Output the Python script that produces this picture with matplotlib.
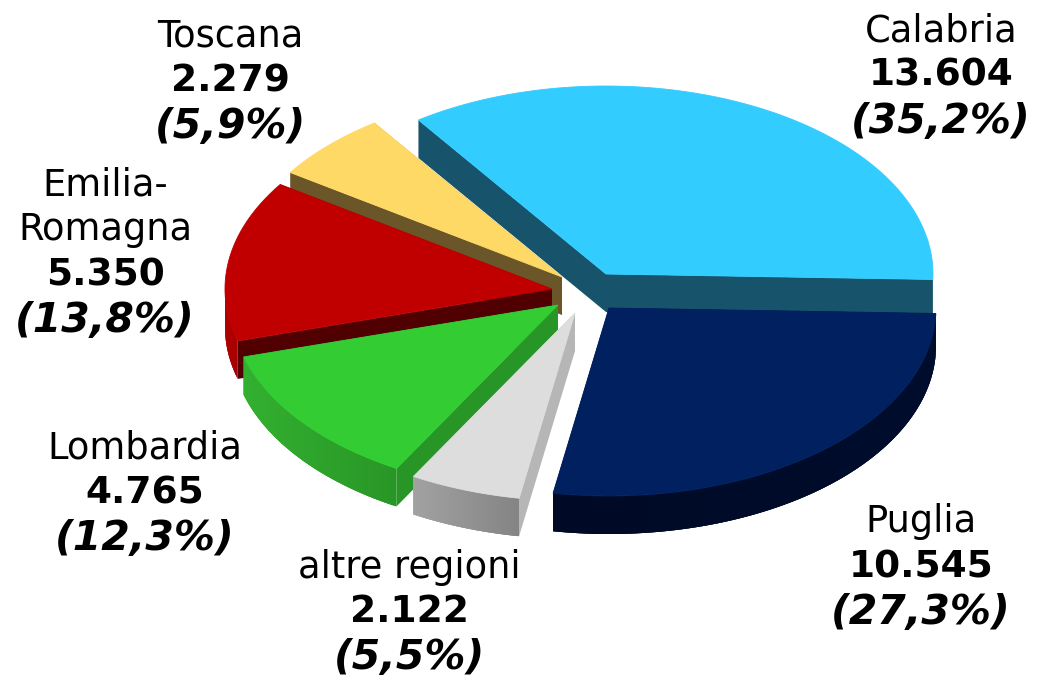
import numpy as np
import matplotlib
matplotlib.use("Agg")
import matplotlib.pyplot as plt
from matplotlib.patches import Polygon

regions = ['Calabria', 'Puglia', 'altre regioni', 'Lombardia', 'Emilia-\nRomagna', 'Toscana']
values = [13604, 10545, 2122, 4765, 5350, 2279]

# colours, same order as regions
top_colors = ['#33ccff', '#002060', '#dddddd', '#33cc33', '#c00000', '#ffd966']
wall_colors = ['#17536a', '#000c2c', '#b6b6b6', '#289626', '#500000', '#6a5628']
rim_left = ['#17536a', '#000a26', '#a2a2a2', '#33b030', '#b00000', '#8a7038']
rim_right = ['#17536a', '#000c2c', '#848484', '#289626', '#900000', '#6a5628']

# pixel position of each slice tip, and of each label block
tips = [(606, 274), (609, 308), (575, 313), (558, 305), (552, 289), (562, 277)]
label_pos = [(941, 31), (921, 522), (409, 567), (145, 448), (105, 185), (230, 36)]

RX = 327
RY = 188
DEPTH = 38
START = 125.0
LABEL_SIZE = 26.5
NUMBER_SIZE = 27
PCT_SIZE = 29.5
# back to front
draw_order = [0, 5, 4, 3, 2, 1]

plt.rcParams['font.family'] = 'DejaVu Sans'


def rim_points(tip, a0, a1, n=120):
    a = np.radians(np.linspace(a0, a1, n))
    return tip[0] + RX * np.cos(a), tip[1] - RY * np.sin(a), a


def draw_slice(ax, i, a0, a1):
    tip = tips[i]
    x, y, a = rim_points(tip, a0, a1)

    # cut faces
    for xe, ye in [(x[0], y[0]), (x[-1], y[-1])]:
        pts = [tip, (xe, ye), (xe, ye + DEPTH), (tip[0], tip[1] + DEPTH)]
        ax.add_patch(Polygon(pts, closed=True, fc=wall_colors[i], ec='none'))

    # outer rim, quads overlap the next one so no seams show
    c0 = np.array(matplotlib.colors.to_rgb(rim_left[i]))
    c1 = np.array(matplotlib.colors.to_rgb(rim_right[i]))
    for k in range(len(x) - 1):
        if np.sin(a[k]) > 0.02:
            continue
        m = min(k + 3, len(x) - 1)
        t = (x[k] - x.min()) / max(x.max() - x.min(), 1)
        col = c0 + (c1 - c0) * t
        px = list(x[k:m + 1]) + list(x[k:m + 1][::-1])
        py = list(y[k:m + 1]) + list(y[k:m + 1][::-1] + DEPTH)
        ax.add_patch(Polygon(list(zip(px, py)), closed=True, fc=col, ec='none'))

    # top face
    pts = [tip] + list(zip(x, y))
    ax.add_patch(Polygon(pts, closed=True, fc=top_colors[i], ec=top_colors[i], lw=0.6))


def draw_label(ax, i, share):
    cx, y = label_pos[i]
    for line in regions[i].split('\n'):
        ax.text(cx, y, line, ha='center', va='center', fontsize=LABEL_SIZE)
        y += 45
    num = f"{values[i]:,}".replace(",", ".")
    ax.text(cx, y, num, ha='center', va='center', fontsize=NUMBER_SIZE, fontweight='bold')
    pct = f"({share:.1f}%)".replace(".", ",")
    ax.text(cx, y + 46, pct, ha='center', va='center', fontsize=PCT_SIZE,
            fontweight='bold', fontstyle='italic')


fig = plt.figure(figsize=(10.48, 6.86), dpi=100)
ax = fig.add_axes([0, 0, 1, 1])
ax.set_xlim(0, 1048)
ax.set_ylim(686, 0)
ax.axis('off')

total = sum(values)
shares = [v / total * 100 for v in values]
ends = START - np.cumsum(shares) * 3.6
starts = np.concatenate(([START], ends[:-1]))

for i in draw_order:
    draw_slice(ax, i, starts[i], ends[i])

for i in range(len(regions)):
    draw_label(ax, i, shares[i])

fig.savefig('out.png', dpi=100)
